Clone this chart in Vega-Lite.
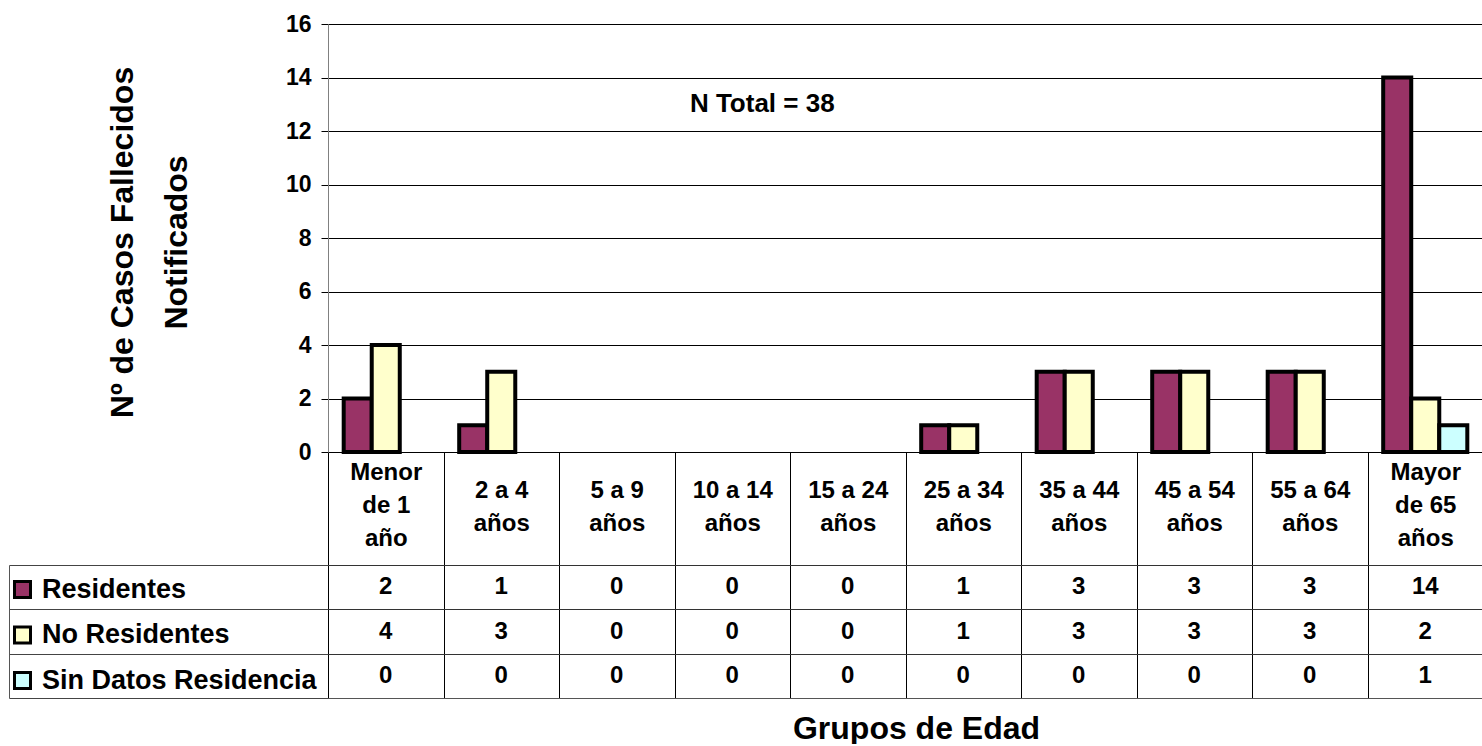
{
  "$schema": "https://vega.github.io/schema/vega-lite/v6.json",
  "padding": {"left": 8, "top": 13, "right": 0, "bottom": 0},
  "background": "white",
  "config": {"font": "Liberation Sans", "view": {"stroke": null}},
  "bounds": "flush",
  "spacing": 113,
  "datasets": {
    "casos": [
      {"grupo": "Menor de 1 año", "serie": "Residentes", "casos": 2},
      {"grupo": "Menor de 1 año", "serie": "No Residentes", "casos": 4},
      {"grupo": "Menor de 1 año", "serie": "Sin Datos Residencia", "casos": 0},
      {"grupo": "2 a 4 años", "serie": "Residentes", "casos": 1},
      {"grupo": "2 a 4 años", "serie": "No Residentes", "casos": 3},
      {"grupo": "2 a 4 años", "serie": "Sin Datos Residencia", "casos": 0},
      {"grupo": "5 a 9 años", "serie": "Residentes", "casos": 0},
      {"grupo": "5 a 9 años", "serie": "No Residentes", "casos": 0},
      {"grupo": "5 a 9 años", "serie": "Sin Datos Residencia", "casos": 0},
      {"grupo": "10 a 14 años", "serie": "Residentes", "casos": 0},
      {"grupo": "10 a 14 años", "serie": "No Residentes", "casos": 0},
      {"grupo": "10 a 14 años", "serie": "Sin Datos Residencia", "casos": 0},
      {"grupo": "15 a 24 años", "serie": "Residentes", "casos": 0},
      {"grupo": "15 a 24 años", "serie": "No Residentes", "casos": 0},
      {"grupo": "15 a 24 años", "serie": "Sin Datos Residencia", "casos": 0},
      {"grupo": "25 a 34 años", "serie": "Residentes", "casos": 1},
      {"grupo": "25 a 34 años", "serie": "No Residentes", "casos": 1},
      {"grupo": "25 a 34 años", "serie": "Sin Datos Residencia", "casos": 0},
      {"grupo": "35 a 44 años", "serie": "Residentes", "casos": 3},
      {"grupo": "35 a 44 años", "serie": "No Residentes", "casos": 3},
      {"grupo": "35 a 44 años", "serie": "Sin Datos Residencia", "casos": 0},
      {"grupo": "45 a 54 años", "serie": "Residentes", "casos": 3},
      {"grupo": "45 a 54 años", "serie": "No Residentes", "casos": 3},
      {"grupo": "45 a 54 años", "serie": "Sin Datos Residencia", "casos": 0},
      {"grupo": "55 a 64 años", "serie": "Residentes", "casos": 3},
      {"grupo": "55 a 64 años", "serie": "No Residentes", "casos": 3},
      {"grupo": "55 a 64 años", "serie": "Sin Datos Residencia", "casos": 0},
      {"grupo": "Mayor de 65 años", "serie": "Residentes", "casos": 14},
      {"grupo": "Mayor de 65 años", "serie": "No Residentes", "casos": 2},
      {"grupo": "Mayor de 65 años", "serie": "Sin Datos Residencia", "casos": 1}
    ],
    "nota": [
      {"grupo": "10 a 14 años", "casos": 13.0, "texto": "N Total = 38"}
    ]
  },
  "vconcat": [
    {
      "width": 1155,
      "height": 428,
      "encoding": {
        "x": {
          "field": "grupo",
          "type": "nominal",
          "scale": {
            "domain": ["Menor de 1 año", "2 a 4 años", "5 a 9 años", "10 a 14 años", "15 a 24 años", "25 a 34 años", "35 a 44 años", "45 a 54 años", "55 a 64 años", "Mayor de 65 años"],
            "paddingInner": 0,
            "paddingOuter": 0
          },
          "axis": {
            "title": null,
            "labelExpr": "!datum.label ? '' : (indexof(datum.label, ' a ') > 0 ? [replace(datum.label, ' años', ''), 'años'] : [split(datum.label, ' ')[0], split(datum.label, ' ')[1] + ' ' + split(datum.label, ' ')[2], split(datum.label, ' ')[3]])",
            "labelAngle": 0,
            "labelFontSize": 24,
            "labelFontWeight": "bold",
            "labelColor": "black",
            "labelLineHeight": 33,
            "labelBaseline": "middle",
            "labelPadding": {"condition": {"test": "indexof(datum.label, ' a ') > 0", "value": -75}, "value": -93},
            "labelOverlap": false,
            "labelBound": false,
            "labelLimit": 0,
            "tickBand": "extent",
            "tickSize": 113,
            "tickColor": "black",
            "domainColor": "black"
          }
        },
        "y": {
          "field": "casos",
          "type": "quantitative",
          "scale": {"domain": [0, 16], "nice": false},
          "axis": {
            "title": ["Nº de Casos Fallecidos", "Notificados"],
            "titleFontSize": 32,
            "titleFontWeight": "bold",
            "titleColor": "black",
            "titleLineHeight": 54,
            "titleX": -189,
            "titleY": 218,
            "titleBaseline": "bottom",
            "values": [0, 2, 4, 6, 8, 10, 12, 14, 16],
            "labelFontSize": 23,
            "labelFontWeight": "bold",
            "labelColor": "black",
            "labelPadding": 10,
            "tickSize": 7,
            "tickColor": "black",
            "domainColor": "#808080",
            "grid": true,
            "gridColor": "black",
            "gridWidth": 1
          }
        }
      },
      "layer": [
        {
          "data": {"name": "casos"},
          "transform": [{"filter": "datum.casos > 0"}],
          "mark": {"type": "bar", "stroke": "black", "strokeWidth": 4},
          "encoding": {
            "xOffset": {
              "field": "serie",
              "type": "nominal",
              "scale": {
                "domain": ["Residentes", "No Residentes", "Sin Datos Residencia"],
                "paddingInner": 0,
                "paddingOuter": 0.56
              }
            },
            "color": {
              "field": "serie",
              "type": "nominal",
              "scale": {
                "domain": ["Residentes", "No Residentes", "Sin Datos Residencia"],
                "range": ["#993366", "#FFFFCC", "#CCFFFF"]
              },
              "legend": {
                "orient": "none",
                "legendX": -319,
                "legendY": 552,
                "title": null,
                "symbolType": "square",
                "symbolSize": 256,
                "symbolStrokeColor": "black",
                "symbolStrokeWidth": 3,
                "symbolOpacity": 1,
                "labelFontSize": 27,
                "labelFontWeight": "bold",
                "labelColor": "black",
                "labelOffset": 6,
                "labelLimit": 0,
                "rowPadding": 16.5,
                "padding": 0
              }
            }
          }
        },
        {
          "data": {"name": "nota"},
          "mark": {"type": "text", "fontSize": 26, "fontWeight": "bold", "color": "black", "dx": 30},
          "encoding": {
            "text": {"field": "texto", "type": "nominal"}
          }
        }
      ]
    },
    {
      "width": 1155,
      "height": 133,
      "data": {"name": "casos"},
      "mark": {"type": "text", "fontSize": 24, "fontWeight": "bold", "color": "black"},
      "encoding": {
        "x": {
          "field": "grupo",
          "type": "nominal",
          "scale": {
            "domain": ["Menor de 1 año", "2 a 4 años", "5 a 9 años", "10 a 14 años", "15 a 24 años", "25 a 34 años", "35 a 44 años", "45 a 54 años", "55 a 64 años", "Mayor de 65 años"],
            "paddingInner": 0,
            "paddingOuter": 0
          },
          "axis": {
            "labels": false,
            "ticks": false,
            "domain": true,
            "domainColor": "#555555",
            "grid": true,
            "gridColor": "black",
            "gridOpacity": 1,
            "tickBand": "extent",
            "title": "Grupos de Edad",
            "titleFontSize": 32,
            "titleFontWeight": "bold",
            "titleColor": "black",
            "titlePadding": 15,
            "titleX": 588
          }
        },
        "y": {
          "field": "serie",
          "type": "nominal",
          "scale": {
            "domain": ["Residentes", "No Residentes", "Sin Datos Residencia"],
            "paddingInner": 0,
            "paddingOuter": 0
          },
          "axis": {
            "labels": false,
            "title": null,
            "tickBand": "extent",
            "offset": 319,
            "tickSize": -319,
            "tickColor": "#444444",
            "domainColor": "#555555",
            "grid": true,
            "gridColor": "#333333",
            "gridOpacity": 1
          }
        },
        "text": {"field": "casos", "type": "quantitative"}
      }
    }
  ]
}
